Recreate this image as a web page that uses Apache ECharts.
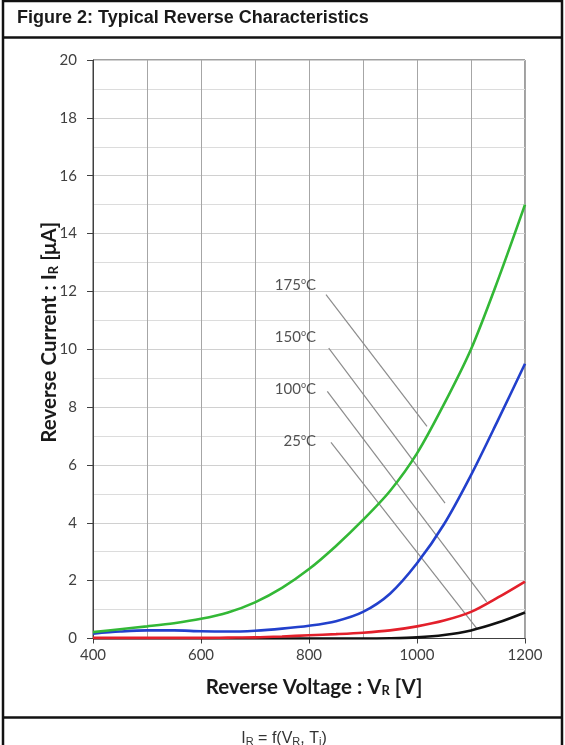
<!DOCTYPE html>
<html>
<head>
<meta charset="utf-8">
<script src="https://cdn.jsdelivr.net/npm/echarts@6/dist/echarts.min.js"></script>
<style>
html,body{margin:0;padding:0;background:#fff;}
#c{width:565px;height:745px;}
</style>
</head>
<body>
<div id="c"></div>
<script>
// ---- data ----
const voltage = [400,450,500,550,600,650,700,750,800,850,900,950,1000,1050,1100,1150,1200];
const ir175 = [0.22,0.32,0.42,0.53,0.68,0.9,1.25,1.75,2.4,3.2,4.1,5.1,6.4,8.1,10.0,12.4,15.0];
const ir150 = [0.17,0.24,0.28,0.28,0.25,0.24,0.27,0.34,0.44,0.6,0.92,1.55,2.6,3.95,5.65,7.55,9.5];
const ir100 = [0.02,0.02,0.02,0.02,0.02,0.03,0.04,0.07,0.11,0.15,0.2,0.28,0.42,0.62,0.92,1.42,1.97];
const ir25  = [0,0,0,0,0,0,0,0,0,0,0,0.01,0.04,0.12,0.28,0.55,0.9];
const tempLabels = ['175','150','100','25'];
const labelX = [813,813,813,813];
const labelY = [12.23,10.43,8.63,6.83];
const leaderStart = [[831.5,11.89],[836.5,10.04],[833.9,8.54],[840.7,6.78]];
const leaderEnd   = [[1018.5,7.33],[1051.9,4.68],[1129,1.27],[1110.6,0.35]];
const xTicks = [400,600,800,1000,1200];
const yTicks = [0,2,4,6,8,10,12,14,16,18,20];

const chart = echarts.init(document.getElementById('c'), null, {renderer:'canvas'});
const pair = (ys) => voltage.map((v,i)=>[v, ys[i]]);
const curve = (name, ys, color) => ({
  name, type:'line', data: pair(ys), smooth:0.3, showSymbol:false,
  lineStyle:{color, width:2.6}, z:5, silent:true
});
const leaders = leaderStart.map((s,i)=>({
  type:'line', data:[s, leaderEnd[i]], showSymbol:false, silent:true,
  lineStyle:{color:'#8c8c8c', width:1.2}, z:3
}));
const labelsSeries = {
  type:'scatter', symbolSize:0, silent:true, z:6,
  data: tempLabels.map((t,i)=>({value:[labelX[i], labelY[i]], name:t})),
  label:{show:true, position:'left', distance:0,
    formatter: p => p.name + '{s|o}C',
    fontFamily:'Lato', fontSize:15, color:'#262626',
    rich:{s:{fontSize:9, verticalAlign:'top', padding:[0,0,8,0], color:'#262626', fontFamily:'Lato'}}}
};
const nameRich = {
  b:{fontFamily:'Lato', fontWeight:'bold', fontSize:20.5, color:'#1a1a1a'},
  sub:{fontFamily:'Lato', fontWeight:'bold', fontSize:13, color:'#1a1a1a', verticalAlign:'bottom', padding:[8,0,0,0]}
};

chart.setOption({
  animation:false,
  backgroundColor:'#fff',
  grid:{left:93, right:40, top:60, bottom:106.5, show:true, borderColor:'#404040', borderWidth:1},
  xAxis:{
    type:'value', min:xTicks[0], max:xTicks[xTicks.length-1], interval:200,
    axisLine:{show:true, onZero:false, lineStyle:{color:'#404040', width:1}},
    axisTick:{show:true, inside:false, length:5, lineStyle:{color:'#404040'}},
    axisLabel:{margin:9, fontFamily:'Lato', fontSize:15, color:'#404040', formatter: v => String(v)},
    splitLine:{show:true, lineStyle:{color:'#a6a6a6', width:1}},
    minorTick:{show:false, splitNumber:2},
    minorSplitLine:{show:true, lineStyle:{color:'#a6a6a6', width:1}},
    name:'{b|Reverse Voltage : V}{sub|R}{b| [V]}', nameLocation:'middle', nameGap:38,
    nameTextStyle:{padding:[0,0,0,10], rich:nameRich}
  },
  yAxis:{
    type:'value', min:yTicks[0], max:yTicks[yTicks.length-1], interval:2,
    axisLine:{show:true, lineStyle:{color:'#404040', width:1}},
    axisTick:{show:true, inside:false, length:6, lineStyle:{color:'#404040'}},
    axisLabel:{margin:16, fontFamily:'Lato', fontSize:15, color:'#404040', formatter: v => String(v)},
    splitLine:{show:true, lineStyle:{color:'#d0d0d0', width:1}},
    minorTick:{show:false, splitNumber:2},
    minorSplitLine:{show:true, lineStyle:{color:'#dcdcdc', width:1}},
    name:'{b|Reverse Current : I}{sub|R}{b| [μA]}', nameLocation:'middle', nameGap:33, nameRotate:90,
    nameMoveOverlap:false,
    nameTextStyle:{padding:[0,0,0,34], rich:nameRich}
  },
  series:[
    ...leaders,
    curve('25°C', ir25, '#111111'),
    curve('100°C', ir100, '#e3202b'),
    curve('150°C', ir150, '#2240cc'),
    curve('175°C', ir175, '#33b836'),
    labelsSeries
  ],
  graphic:[
    {type:'line', shape:{x1:3, y1:0, x2:3, y2:745}, style:{stroke:'#111', lineWidth:2.5}, z:100},
    {type:'line', shape:{x1:562, y1:0, x2:562, y2:745}, style:{stroke:'#111', lineWidth:2.5}, z:100},
    {type:'line', shape:{x1:3, y1:1, x2:562, y2:1}, style:{stroke:'#111', lineWidth:2.5}, z:100},
    {type:'line', shape:{x1:3, y1:37.5, x2:562, y2:37.5}, style:{stroke:'#111', lineWidth:2.5}, z:100},
    {type:'line', shape:{x1:3, y1:717.5, x2:562, y2:717.5}, style:{stroke:'#111', lineWidth:2.5}, z:100},
    {type:'text', x:17, y:18, style:{text:'Figure 2: Typical Reverse Characteristics', textVerticalAlign:'middle', fontFamily:'Liberation Sans', fontWeight:'bold', fontSize:18, fill:'#1a1a1a'}, z:100},
    {type:'text', x:284, y:739, style:{
      text:'I{s|R} = f(V{s|R}, T{s|j})', textAlign:'center', textVerticalAlign:'middle',
      fontFamily:'Liberation Sans', fontSize:16, fill:'#333',
      rich:{s:{fontSize:11, fontFamily:'Liberation Sans', fill:'#333', verticalAlign:'bottom', padding:[6,0,0,0]}}
    }, z:100}
  ]
});
</script>
</body>
</html>
